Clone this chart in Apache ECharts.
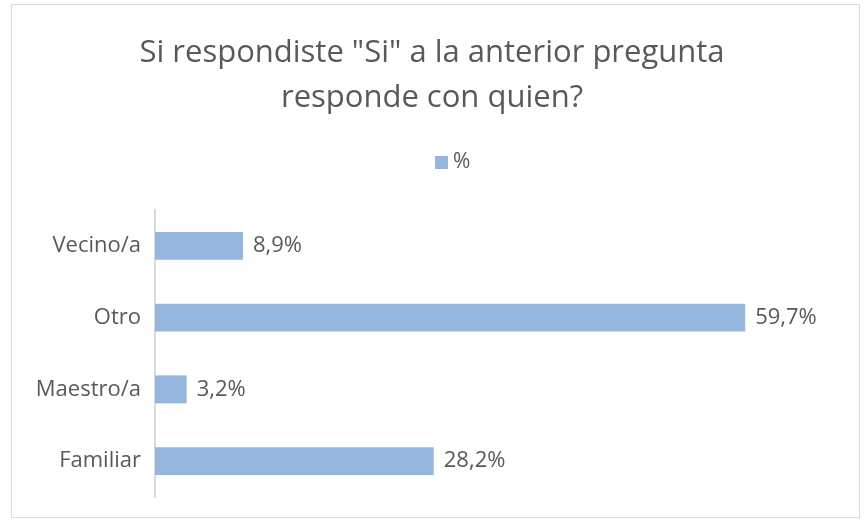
<!DOCTYPE html>
<html>
<head>
<meta charset="utf-8">
<script src="https://cdn.jsdelivr.net/npm/echarts@6/dist/echarts.min.js"></script>
<style>
  html, body { margin: 0; padding: 0; background: #fff; }
  #frame {
    position: absolute; left: 11px; top: 4px; width: 849px; height: 514px;
    border: 1px solid #d9d9d9; box-sizing: border-box;
  }
  #chart { position: absolute; left: 0; top: 0; width: 864px; height: 523px; }
</style>
</head>
<body>
<div id="frame"></div>
<div id="chart"></div>
<script>
const categories = ['Familiar', 'Maestro/a', 'Otro', 'Vecino/a']
const values = [28.2, 3.2, 59.7, 8.9]
const seriesName = '%'

const txt = '#595959'
const font = "'Open Sans', 'Noto Sans', sans-serif"

const mychart = echarts.init(document.getElementById('chart'))

mychart.setOption({
  animation: false,
  textStyle: { fontFamily: font },
  title: {
    text: 'Si respondiste "Si" a la anterior pregunta\nresponde con quien?',
    left: 'center',
    top: 26,
    textStyle: { color: txt, fontSize: 31, fontWeight: 'normal', lineHeight: 45, fontFamily: font }
  },
  legend: {
    data: [seriesName],
    top: 147,
    left: 430,
    itemWidth: 13,
    itemHeight: 13,
    itemGap: 6,
    icon: 'rect',
    textStyle: { color: txt, fontSize: 21, fontFamily: font }
  },
  grid: { left: 155, right: 17, top: 210, bottom: 26 },
  xAxis: {
    type: 'value',
    min: 0,
    max: 70,
    show: false
  },
  yAxis: {
    type: 'category',
    data: categories,
    axisLine: { show: true, lineStyle: { color: '#d9d9d9', width: 2 } },
    axisTick: { show: false },
    axisLabel: { color: txt, fontSize: 22, margin: 14 }
  },
  series: [{
    name: seriesName,
    type: 'bar',
    data: values,
    barWidth: '39%',
    itemStyle: { color: '#95b7de' },
    label: {
      show: true,
      position: 'right',
      distance: 10,
      color: txt,
      fontSize: 22,
      formatter: p => p.value.toFixed(1).replace('.', ',') + '%'
    }
  }]
})
</script>
</body>
</html>
